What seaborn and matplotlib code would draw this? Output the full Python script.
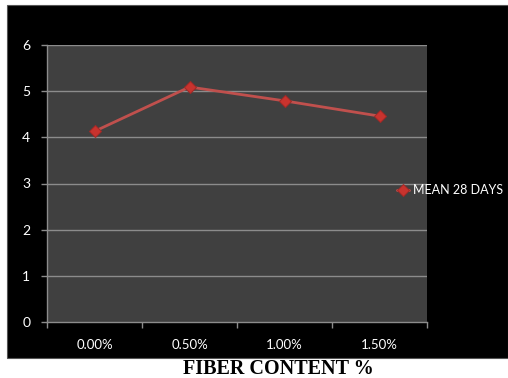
import matplotlib
matplotlib.use("Agg")
import matplotlib.pyplot as plt
import seaborn as sns
import pandas as pd
from matplotlib.patches import Rectangle

categories = ["0.00%", "0.50%", "1.00%", "1.50%"]
mean_28_days = [4.13, 5.09, 4.79, 4.46]
series_name = "MEAN 28 DAYS"
y_ticks = [0, 1, 2, 3, 4, 5, 6]
x_title = "FIBER CONTENT %"

sns.set_style("dark")
plt.rcParams["font.family"] = ["Lato", "DejaVu Sans"]
W, H = 508, 378
fig = plt.figure(figsize=(W / 100, H / 100), dpi=100)
fig.patch.set_facecolor("white")
# black chart area
fig.patches.append(Rectangle((7 / W, (H - 358) / H), 1 - 7 / W, (358 - 5) / H,
                             transform=fig.transFigure, facecolor="black",
                             edgecolor="#555555", lw=0.8, zorder=-5))

ax = fig.add_axes([47 / W, (H - 322) / H, (427 - 47) / W, (322 - 45) / H])
ax.set_zorder(2)
ax.set_facecolor("#404040")

df = pd.DataFrame({"cat": categories, "val": mean_28_days})
sns.lineplot(data=df, x="cat", y="val", ax=ax, color="#C0504D", lw=2,
             marker="D", markersize=6, markerfacecolor="#C8332E",
             markeredgecolor="#A02A27", sort=False, label=series_name, zorder=3)

ax.set_xlim(-0.5, 3.5)
ax.set_ylim(0, 6)
ax.set_yticks(y_ticks)
ax.set_xticks(range(len(categories)))
ax.set_xticklabels(categories)
ax.set_xticks([i - 0.5 for i in range(len(categories) + 1)], minor=True)
ax.grid(False)
for y in y_ticks[1:]:
    ax.axhline(y, color="#8C8C8C", lw=1, zorder=1)

ax.tick_params(axis="y", colors="#8C8C8C", labelcolor="white", length=4,
               width=1, labelsize=10, pad=8, left=True)
ax.tick_params(axis="x", which="major", length=0, labelcolor="white",
               labelsize=9.5, pad=12)
ax.tick_params(axis="x", which="minor", length=4, width=1, color="#8C8C8C",
               bottom=True)
for s in ["top", "right"]:
    ax.spines[s].set_visible(False)
for s in ["left", "bottom"]:
    ax.spines[s].set_color("#8C8C8C")
    ax.spines[s].set_linewidth(1)
ax.set_xlabel("")
ax.set_ylabel("")

leg = ax.legend(loc="center left", bbox_to_anchor=(0.92, 0.475), frameon=False,
                fontsize=9, handlelength=1.0, handletextpad=0.3,
                borderaxespad=0, borderpad=0)
for t in leg.get_texts():
    t.set_color("white")

fig.text(278 / W, (H - 369) / H, x_title, ha="center", va="center",
         fontsize=14.5, fontweight="bold", family="Liberation Serif", color="black")

fig.savefig("out.png", dpi=100, facecolor=fig.get_facecolor())
